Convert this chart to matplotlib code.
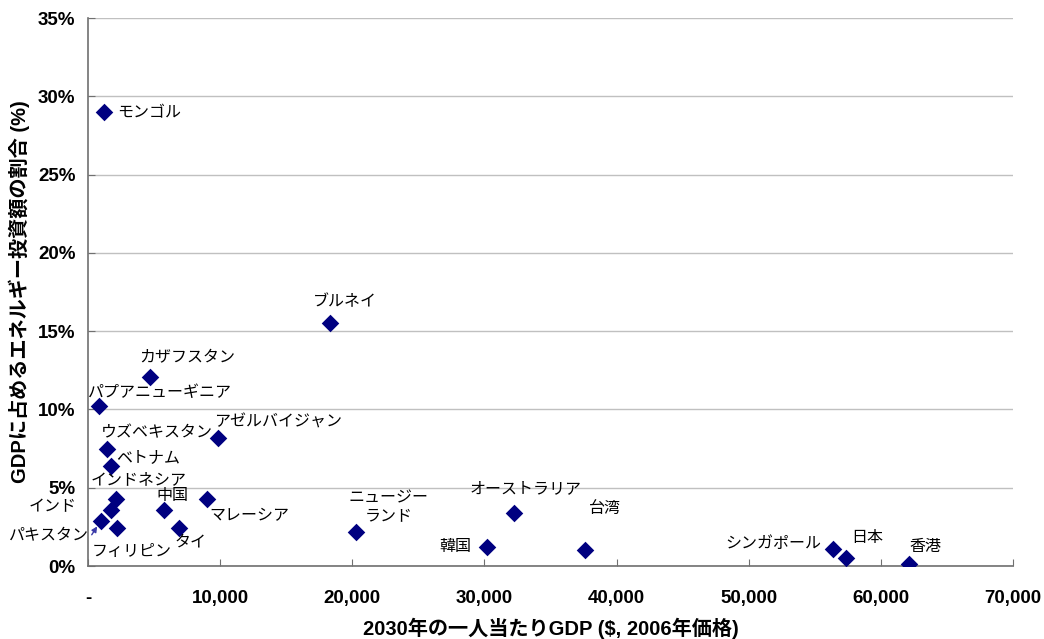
import matplotlib.pyplot as plt
from matplotlib.ticker import FuncFormatter, MultipleLocator

plt.rcParams['font.family'] = ['Noto Sans CJK JP', 'DejaVu Sans']

# 2030 per-capita GDP ($, 2006 prices) and energy investment share of GDP (%)
countries = ["モンゴル", "ブルネイ", "カザフスタン", "パプアニューギニア", "ウズベキスタン",
             "アゼルバイジャン", "ベトナム", "インドネシア", "インド", "パキスタン",
             "フィリピン", "中国", "タイ", "マレーシア", "ニュージー\nランド",
             "オーストラリア", "韓国", "台湾", "シンガポール", "日本", "香港"]
gdp = [1200, 18300, 4700, 830, 1450, 9850, 1750, 2150, 1750, 980,
       2200, 5750, 6900, 9000, 20300, 32200, 30200, 37600, 56400, 57400, 62150]
share = [29.0, 15.5, 12.1, 10.2, 7.5, 8.2, 6.4, 4.3, 3.6, 2.9,
         2.4, 3.6, 2.4, 4.3, 2.2, 3.4, 1.2, 1.0, 1.1, 0.5, 0.1]

# label offsets in pixels from each point
offsets = [(13, -1), (15, 22), (37, 19), (61, 14), (50, 16),
           (60, 16), (37, 8), (22, 19), (-59, 3), (-52, -15),
           (15, -23), (8, 14), (11, -14), (42, -17), (32, 24),
           (12, 24), (-32, 1), (20, 42), (-60, 5), (21, 21), (16, 18)]

fig = plt.figure(figsize=(10.44, 6.39), dpi=100)
ax = fig.add_axes([0.0843, 0.1142, 0.886, 0.8576])

ax.scatter(gdp, share, marker='D', s=80, color='#000080', zorder=3, linewidths=0)

for name, x, y, (dx, dy) in zip(countries, gdp, share, offsets):
    ha = 'left' if name == "モンゴル" else 'center'
    if name == "パキスタン":
        ax.annotate(name, (x, y), xytext=(dx, dy), textcoords='offset pixels',
                    ha=ha, va='center', fontsize=11.5,
                    arrowprops=dict(arrowstyle='-|>', color='#3a3aa8', lw=1,
                                    shrinkA=0, shrinkB=5, mutation_scale=8,
                                    relpos=(1.0, 0.3)))
    else:
        ax.annotate(name, (x, y), xytext=(dx, dy), textcoords='offset pixels',
                    ha=ha, va='center', fontsize=11.5, linespacing=1.1)

ax.set_xlim(0, 70000)
ax.set_ylim(0, 35)
ax.xaxis.set_major_locator(MultipleLocator(10000))
ax.yaxis.set_major_locator(MultipleLocator(5))
ax.xaxis.set_major_formatter(FuncFormatter(lambda v, p: '-' if v == 0 else f'{v:,.0f}'))
ax.yaxis.set_major_formatter(FuncFormatter(lambda v, p: f'{v:.0f}%'))

ax.grid(axis='y', color='#c0c0c0', lw=1)
ax.set_axisbelow(True)
for side in ['top', 'right']:
    ax.spines[side].set_visible(False)
for side in ['left', 'bottom']:
    ax.spines[side].set_color('#707070')
    ax.spines[side].set_linewidth(1.2)

ax.tick_params(axis='x', direction='in', length=5, color='#707070', pad=17)
ax.tick_params(axis='y', direction='in', length=5, color='#707070', pad=9)
for lbl in ax.get_xticklabels() + ax.get_yticklabels():
    lbl.set_fontfamily(['Liberation Sans', 'DejaVu Sans'])
    lbl.set_fontweight('bold')
    lbl.set_fontsize(13.5)

ax.set_xlabel("2030年の一人当たりGDP ($, 2006年価格)", fontsize=14.5, fontweight='bold',
              family=['Liberation Sans', 'Noto Sans CJK JP'], labelpad=8)
ax.set_ylabel("GDPに占めるエネルギー投資額の割合 (%)", fontsize=14.5, fontweight='bold',
              family=['Liberation Sans', 'Noto Sans CJK JP'], labelpad=6)

fig.savefig('out.png', dpi=100)
